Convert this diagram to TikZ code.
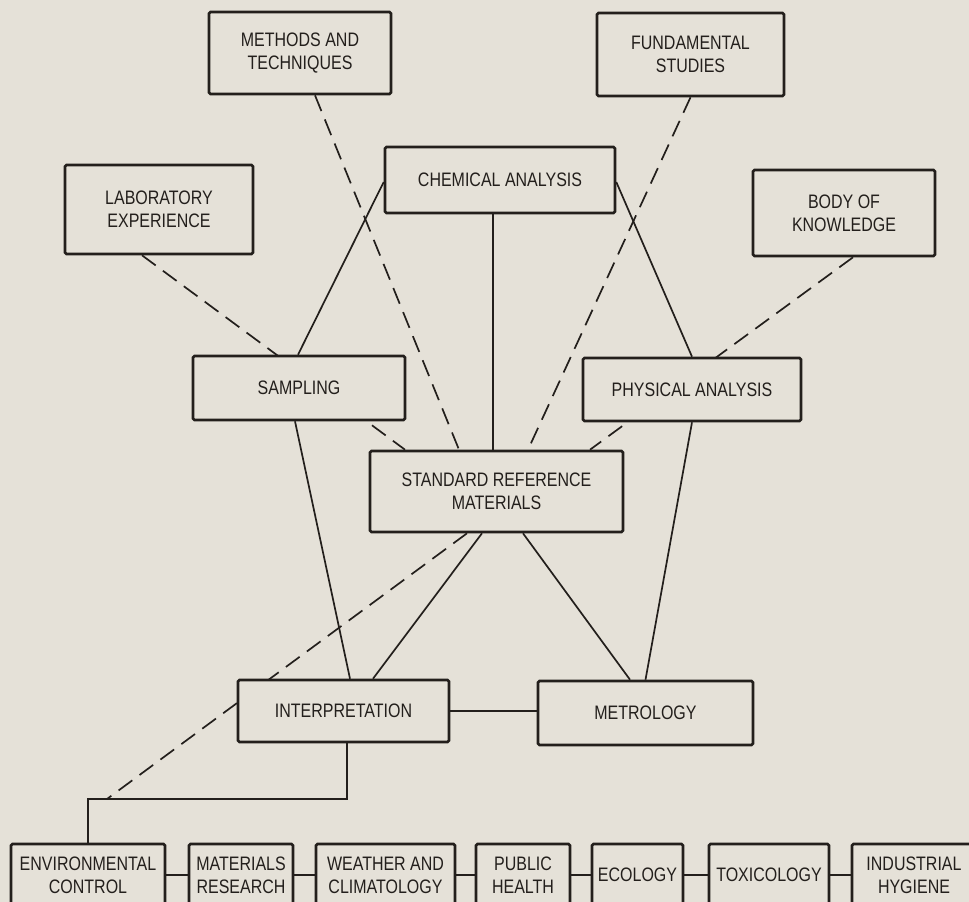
\documentclass[tikz,border=0pt]{standalone}
\usepackage{fontspec}
\setmainfont{Liberation Sans}[FakeStretch=0.82]
\usetikzlibrary{backgrounds}
\definecolor{paper}{RGB}{229,225,216}
\definecolor{ink}{RGB}{35,31,28}
\begin{document}
\begin{tikzpicture}[x=1pt,y=-1pt,
	box/.style={draw=ink, line width=2.6pt, fill=paper, rounded corners=1.5pt, inner sep=0pt, align=center, text=ink, font=\fontsize{19.5}{23}\selectfont},
	link/.style={draw=ink, line width=1.7pt},
	dlink/.style={link, dash pattern=on 17pt off 9pt}]
	\clip (0,0) rectangle (969,902);
	% upper boxes
	\node (methods) at (300, 53)	[box, minimum width=182, minimum height=82]	{METHODS AND\\TECHNIQUES};
	\node (fund) at (690.5, 54.5)	[box, minimum width=187, minimum height=83]	{FUNDAMENTAL\\STUDIES};
	\node (lab) at (159, 209.5)	[box, minimum width=188, minimum height=89]	{LABORATORY\\EXPERIENCE};
	\node (chem) at (500, 180)	[box, minimum width=230, minimum height=66]	{CHEMICAL ANALYSIS};
	\node (body) at (844, 213)	[box, minimum width=182, minimum height=86]	{BODY OF\\KNOWLEDGE};
	\node (sampling) at (299, 388)	[box, minimum width=212, minimum height=64]	{SAMPLING};
	\node (physical) at (692, 389.5)	[box, minimum width=218, minimum height=63]	{PHYSICAL ANALYSIS};
	\node (srm) at (496.5, 491.5)	[box, minimum width=253, minimum height=81]	{STANDARD REFERENCE\\MATERIALS};
	\node (interp) at (343.5, 711)	[box, minimum width=211, minimum height=62]	{INTERPRETATION};
	\node (metrology) at (645.5, 713)	[box, minimum width=215, minimum height=64]	{METROLOGY};
	% lower row
	\node (env) at (88, 875)	[box, minimum width=154, minimum height=62]	{ENVIRONMENTAL\\CONTROL};
	\node (materials) at (241, 875)	[box, minimum width=104, minimum height=62]	{MATERIALS\\RESEARCH};
	\node (weather) at (385.5, 875)	[box, minimum width=139, minimum height=62]	{WEATHER AND\\CLIMATOLOGY};
	\node (public) at (523, 875)	[box, minimum width=94, minimum height=62]	{PUBLIC\\HEALTH};
	\node (ecology) at (637.5, 875)	[box, minimum width=91, minimum height=62]	{ECOLOGY};
	\node (toxicology) at (769, 875)	[box, minimum width=120, minimum height=62]	{TOXICOLOGY};
	\node (industrial) at (914, 875)	[box, minimum width=124, minimum height=62]	{INDUSTRIAL\\HYGIENE};
	\coordinate (knee) at (88, 799);
	% connectors go under the boxes
	\begin{pgfonlayer}{background}
	\fill[paper] (0,0) rectangle (969,902);
	\draw[dlink] ([xshift=15]methods.south) -- ([xshift=-37.5]srm.north);
	\draw[dlink] (fund.south) -- ([xshift=31.5]srm.north);
	\draw[dlink] ([xshift=-17]lab.south) -- ([xshift=-91.5]srm.north);
	\draw[dlink] ([xshift=9]body.south) -- ([xshift=93.5]srm.north);
	\draw[link] ([yshift=-2]chem.west) -- ([xshift=-1]sampling.north);
	\draw[link] ([yshift=-2]chem.east) -- (physical.north);
	\draw[link] ([xshift=-7]chem.south) -- ([xshift=-3.5]srm.north);
	\draw[link] ([xshift=-4]sampling.south) -- ([xshift=6.5]interp.north);
	\draw[link] (physical.south) -- (metrology.north);
	\draw[link] ([xshift=-14.5]srm.south) -- ([xshift=29.5]interp.north);
	\draw[link] ([xshift=26.5]srm.south) -- ([xshift=-15.5]metrology.north);
	\draw[dlink] ([xshift=-29.5]srm.south) -- ([xshift=19]knee);
	\draw[link] (interp.east) -- (interp.east -| metrology.west);
	\draw[link] ([xshift=3.5]interp.south) |- (knee) -- (env.north);
	\draw[link] (env) -- (materials) -- (weather) -- (public) -- (ecology) -- (toxicology) -- (industrial);
	\end{pgfonlayer}
\end{tikzpicture}
\end{document}
